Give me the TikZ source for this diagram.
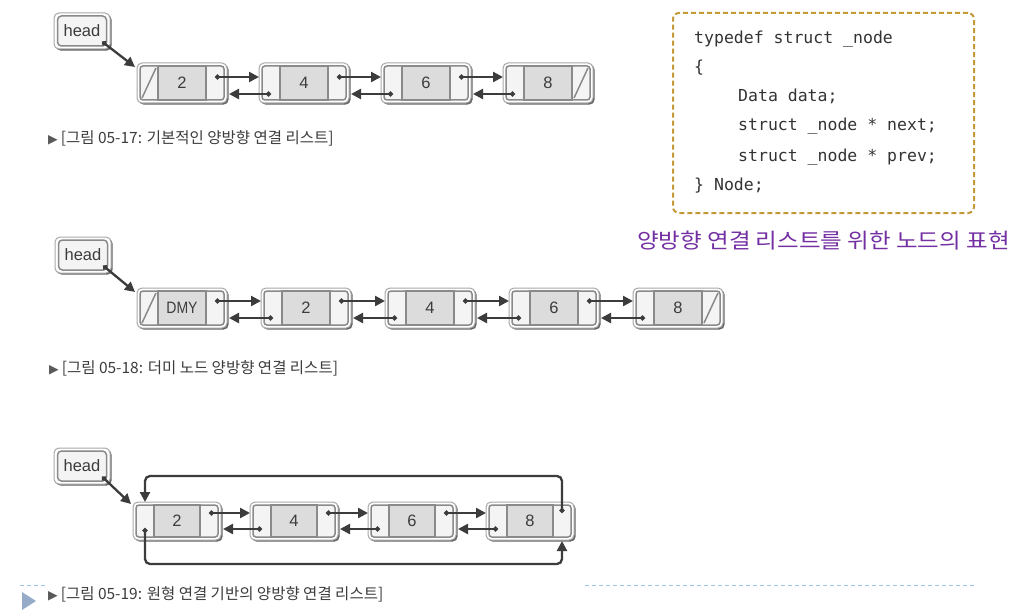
\documentclass[tikz,border=0pt]{standalone}
\usepackage{fontspec}
\setmainfont{Liberation Sans}
\newfontfamily\kr{Noto Sans CJK KR}
\newfontfamily\mono{DejaVu Sans Mono}
\newfontfamily\dv{DejaVu Sans}
\usetikzlibrary{arrows.meta,shadows,calc}
\definecolor{ink}{HTML}{3C3C3C}
\definecolor{cellb}{HTML}{8A8A8A}
\definecolor{sidef}{HTML}{F4F4F4}
\definecolor{midf}{HTML}{DCDCDC}
\definecolor{framec}{HTML}{A8A8A8}
\definecolor{gold}{HTML}{C39A38}
\definecolor{purp}{HTML}{7430A2}
\definecolor{dashb}{HTML}{9DC3E6}
\definecolor{trib}{HTML}{95ABC8}
\def\FW{90}\def\FH{40}\def\IW{84}\def\IH{34}\def\MW{48}\def\SW{18}
\tikzset{
  frame/.style={rectangle, rounded corners=5pt, draw=framec, line width=1pt, fill=white,
    drop shadow={shadow xshift=1.6pt, shadow yshift=-1.6pt, fill=black!60, opacity=1},
    inner sep=0pt, outer sep=0pt},
  lframe/.style={frame, minimum width=\FW pt, minimum height=\FH pt},
  innerbox/.style={rectangle, rounded corners=3pt, draw=cellb, line width=1.5pt, fill=sidef,
    inner sep=0pt, outer sep=0pt, minimum width=\IW pt, minimum height=\IH pt},
  midcell/.style={rectangle, draw=cellb, line width=1.5pt, fill=midf, inner sep=0pt, outer sep=0pt,
    minimum width=\MW pt, minimum height=\IH pt, font=\fontsize{16.5}{16.5}\selectfont, text=ink},
  sidecell/.style={rectangle, inner sep=0pt, outer sep=0pt, minimum width=\SW pt, minimum height=\IH pt},
  slash/.style={draw=cellb, line width=1.5pt},
  conn/.style={draw=ink, line width=2.3pt, {Circle[length=5pt]}-{Triangle[length=10pt,width=10pt]}},
  hframe/.style={frame, minimum width=56pt, minimum height=36pt},
  headin/.style={rectangle, rounded corners=4pt, draw=cellb, line width=1.5pt, fill=sidef,
    minimum width=49pt, minimum height=30pt, inner sep=0pt, font=\fontsize{16.5}{16.5}\selectfont, text=ink},
  caption/.style={anchor=west, inner sep=0pt, text=ink, font=\kr\fontsize{15.5}{15.5}\selectfont},
  codeline/.style={anchor=west, inner sep=0pt, text=black!80, font=\mono\fontsize{16.5}{16.5}\selectfont,
    text height=12pt, text depth=4pt},
  codebox/.style={rectangle, rounded corners=6pt, draw=gold, line width=2pt, dash pattern=on 5pt off 3pt,
    minimum width=301pt, minimum height=200pt, inner sep=0pt},
  dashline/.style={draw=dashb, line width=1pt, dash pattern=on 4pt off 3pt},
}
\newcommand\lnode[4]{%
  \node[lframe] (#1) at (#2,#3) {};
  \node[innerbox] (#1i) at (#1.center) {};
  \node[midcell] (#1m) at (#1.center) {#4};
  \node[sidecell, anchor=east] (#1l) at (#1m.west) {};
  \node[sidecell, anchor=west] (#1r) at (#1m.east) {};
}
\newcommand\dlink[4]{%
  \draw[conn] ([yshift=#3pt]#1r.center) -- ([yshift=#3pt]#2.west);
  \draw[conn] ([yshift=#4pt]#2l.center) -- ([xshift=2pt,yshift=#4pt]#1.east);
}
\newcommand\tri{{\dv\fontsize{12.5}{12.5}\selectfont\color{black!65}▶}\hspace{3pt}}
\begin{document}
\begin{tikzpicture}[x=1pt,y=-1pt]
\fill[white] (0,0) rectangle (1018,610);
\useasboundingbox (0,0) rectangle (1018,610);

% ---------- diagram 1 ----------
\node[hframe] (H1) at (82,31) {};
\node[headin] (H1i) at (H1.center) {head};
\lnode{A1}{182}{83}{2}
\lnode{A2}{304}{83}{4}
\lnode{A3}{426}{83}{6}
\lnode{A4}{548}{83}{8}
\draw[slash] ([shift={(2pt,2pt)}]A1l.south west) -- ([shift={(-2pt,-2pt)}]A1l.north east);
\draw[slash] ([shift={(2pt,2pt)}]A4r.south west) -- ([shift={(-2pt,-2pt)}]A4r.north east);
\draw[conn] ([shift={(-5pt,5pt)}]H1i.south east) -- ([shift={(-2pt,-4pt)}]A1.north west);
\dlink{A1}{A2}{6}{-11}
\dlink{A2}{A3}{6}{-11}
\dlink{A3}{A4}{6}{-11}
\node[caption] (cap1) at (48,138) {\tri[그림 05-17: 기본적인 양방향 연결 리스트]};

% ---------- diagram 2 ----------
\node[hframe] (H2) at (83,255) {};
\node[headin] (H2i) at (H2.center) {head};
\lnode{B1}{182}{308}{\scalebox{0.85}[1]{DMY}}
\lnode{B2}{306}{308}{2}
\lnode{B3}{430}{308}{4}
\lnode{B4}{554}{308}{6}
\lnode{B5}{678}{308}{8}
\draw[slash] ([shift={(2pt,2pt)}]B1l.south west) -- ([shift={(-2pt,-2pt)}]B1l.north east);
\draw[slash] ([shift={(2pt,2pt)}]B5r.south west) -- ([shift={(-2pt,-2pt)}]B5r.north east);
\draw[conn] ([shift={(-5pt,5pt)}]H2i.south east) -- ([shift={(-2pt,-4pt)}]B1.north west);
\dlink{B1}{B2}{7}{-10}
\dlink{B2}{B3}{7}{-10}
\dlink{B3}{B4}{7}{-10}
\dlink{B4}{B5}{7}{-10}
\node[caption] (cap2) at (49,368) {\tri[그림 05-18: 더미 노드 양방향 연결 리스트]};

% ---------- diagram 3 ----------
\def\FW{88}\def\FH{38}\def\IW{82}\def\IH{32}\def\MW{46}\def\SW{18}
\node[hframe] (H3) at (82,466) {};
\node[headin] (H3i) at (H3.center) {head};
\lnode{C1}{177}{521}{2}
\lnode{C2}{294}{521}{4}
\lnode{C3}{412}{521}{6}
\lnode{C4}{530}{521}{8}
\draw[conn] ([shift={(-5pt,5pt)}]H3i.south east) -- ([shift={(-2pt,-2pt)}]C1.north west);
\dlink{C1}{C2}{8}{-8}
\dlink{C2}{C3}{8}{-8}
\dlink{C3}{C4}{8}{-8}
\coordinate (ctop) at ([yshift=29pt]C4r.north);
\coordinate (cbot) at ([yshift=-27pt]C1l.south);
\draw[conn, rounded corners=5pt] ([yshift=8pt]C4r.center) -- (ctop) -- (ctop -| C1l.center) -- (C1l.center |- C1.north);
\draw[conn, rounded corners=5pt] ([yshift=-7pt]C1l.center) -- (cbot) -- (cbot -| C4r.center) -- ([yshift=-1pt]C4r.center |- C4.south);
\node[caption] (cap3) at (48,594) {\tri[그림 05-19: 원형 연결 기반의 양방향 연결 리스트]};

% ---------- code box ----------
\node[codebox] (code) at (823.5,113) {};
\node[codeline] (l1) at (694,40) {typedef struct \_node};
\node[codeline] (l2) at (694,69) {\{};
\node[codeline] (l3) at (738,98) {Data data;};
\node[codeline] (l4) at (738,127) {struct \_node * next;};
\node[codeline] (l5) at (738,157) {struct \_node * prev;};
\node[codeline] (l6) at (694,186) {\} Node;};
\node[anchor=west, inner sep=0pt, text=purp, font=\kr\fontsize{21}{21}\selectfont] (purple) at (637,241)
  {\scalebox{1.12}[1]{양방향 연결 리스트를 위한 노드의 표현}};

% ---------- page decorations ----------
\draw[dashline] (585,585) -- (975,585);
\draw[dashline] (20,585) -- (47,585);
\fill[trib] (22,592) -- (36,601) -- (22,610) -- cycle;
\end{tikzpicture}
\end{document}
